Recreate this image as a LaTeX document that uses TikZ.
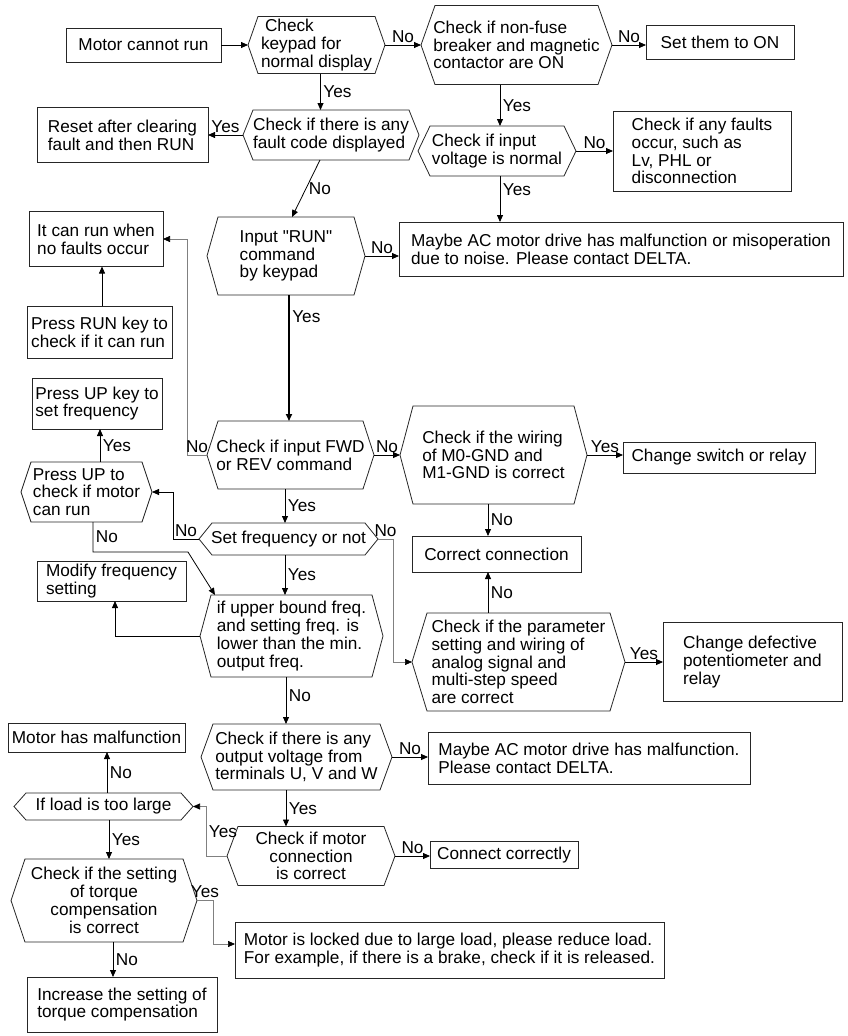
\documentclass[tikz,border=0pt]{standalone}
\usepackage{fontspec}
\newfontfamily\chartfont{Liberation Sans}
\usetikzlibrary{arrows.meta,calc}
\tikzset{
 bx/.style={draw=black!85, line width=0.8pt, inner sep=2pt, outer sep=0pt, align=left},
 hx/.style={inner sep=2pt, outer sep=0pt, align=left},
 hexline/.style={draw=black!85, line width=0.8pt, line join=miter},
 conn/.style={draw=black, line width=0.8pt, -{Triangle[length=7pt,width=6pt]}},
 gconn/.style={draw=black!50, line width=0.7pt, -{Triangle[length=7pt,width=6pt,color=black]}},
 lab/.style={inner sep=2.5pt, text depth=0pt},
}
\newcommand\hexo[2]{\draw[hexline] ([xshift=#2pt]#1.north west) -- ([xshift=-#2pt]#1.north east) -- (#1.east) -- ([xshift=-#2pt]#1.south east) -- ([xshift=#2pt]#1.south west) -- (#1.west) -- cycle;}
\begin{document}
\begin{tikzpicture}[x=1pt,y=-1pt, every node/.style={font=\chartfont\fontsize{17.2}{17.8}\selectfont}]
\path[use as bounding box, fill=white] (0,0) rectangle (847,1036);
% nodes
\node[bx, minimum width=155pt, minimum height=34pt] (start) at (143.5,45) {Motor cannot run};
\node[hx, minimum width=137pt, minimum height=57pt] (h1) at (316.5,45) {\hspace*{4pt}Check\\keypad for\\normal display};
\node[hx, minimum width=191pt, minimum height=79pt] (h2) at (516.5,45) {Check if non-fuse\\breaker and magnetic\\contactor are ON};
\node[bx, minimum width=148pt, minimum height=34pt] (seton) at (720,42) {Set them to ON};
\node[hx, minimum width=176pt, minimum height=50pt] (h3) at (331,135) {Check if there is any\\fault code displayed};
\node[bx, minimum width=171pt, minimum height=55pt] (reset) at (122.5,135) {Reset after clearing\\fault and then RUN};
\node[hx, minimum width=158pt, minimum height=50pt] (h4) at (497,151) {Check if input\\voltage is normal};
\node[bx, minimum width=178pt, minimum height=80pt] (faults) at (702,151) {Check if any faults\\occur, such as\\Lv, PHL or\\disconnection};
\node[bx, minimum width=444pt, minimum height=54pt] (noise) at (621,249) {Maybe AC motor drive has malfunction or misoperation\\due to noise. Please contact DELTA.};
\node[hx, minimum width=158pt, minimum height=78pt] (h5) at (286,256) {Input "RUN"\\command\\by keypad};
\node[bx, minimum width=134pt, minimum height=55pt] (canrun) at (96,239) {It can run when\\no faults occur};
\node[bx, minimum width=145pt, minimum height=52pt] (pressrun) at (99.5,332) {Press RUN key to\\check if it can run};
\node[hx, minimum width=167pt, minimum height=68pt] (h6) at (290.5,455) {Check if input FWD\\or REV command};
\node[bx, minimum width=130pt, minimum height=51pt] (pressup) at (97,403.5) {Press UP key to\\set frequency};
\node[hx, minimum width=131pt, minimum height=60pt] (h7) at (86.5,492) {Press UP to\\check if motor\\can run};
\node[hx, minimum width=179pt, minimum height=32pt] (h8) at (288.5,539) {Set frequency or not};
\node[hx, minimum width=183pt, minimum height=82pt] (h9) at (291.5,636) {if upper bound freq.\\and setting freq. is\\lower than the min.\\output freq.};
\node[bx, minimum width=149pt, minimum height=40pt] (modify) at (111.5,581) {Modify frequency\\setting};
\node[hx, minimum width=187pt, minimum height=98pt] (h10) at (493.5,455) {Check if the wiring\\of M0-GND and\\M1-GND is correct};
\node[bx, minimum width=192pt, minimum height=31pt] (switch) at (719,457.5) {Change switch or relay};
\node[bx, minimum width=169pt, minimum height=36pt] (correct) at (496.5,554) {Correct connection};
\node[hx, minimum width=213pt, minimum height=98pt] (h11) at (518.5,662) {Check if the parameter\\setting and wiring of\\analog signal and\\multi-step speed\\are correct};
\node[bx, minimum width=179pt, minimum height=79pt] (defect) at (752.5,662) {Change defective\\potentiometer and\\relay};
\node[hx, minimum width=191pt, minimum height=66pt] (h12) at (296.5,757) {Check if there is any\\output voltage from\\terminals U, V and W};
\node[bx, minimum width=322pt, minimum height=52pt] (mal2) at (589,758) {Maybe AC motor drive has malfunction.\\Please contact DELTA.};
\node[hx, minimum width=168pt, minimum height=59pt, align=center] (h13) at (311,856) {Check if motor\\connection\\is correct};
\node[bx, minimum width=148pt, minimum height=27pt] (connect) at (504,855) {Connect correctly};
\node[hx, minimum width=179pt, minimum height=27pt] (h14) at (103.5,806.5) {If load is too large};
\node[bx, minimum width=177pt, minimum height=29pt] (motormal) at (96.5,737.5) {Motor has malfunction};
\node[hx, minimum width=186pt, minimum height=83pt, align=center] (h15) at (104,900.5) {Check if the setting\\of torque\\compensation\\is correct};
\node[bx, minimum width=429pt, minimum height=56pt] (locked) at (449.5,950) {Motor is locked due to large load, please reduce load.\\For example, if there is a brake, check if it is released.};
\node[bx, minimum width=190pt, minimum height=55pt] (increase) at (122,1004.5) {Increase the setting of\\torque compensation};
% hexagon outlines
\hexo{h1}{10}\hexo{h2}{14}\hexo{h3}{10}\hexo{h4}{12}\hexo{h5}{11}
\hexo{h6}{11}\hexo{h7}{10}\hexo{h8}{13}\hexo{h9}{11}\hexo{h10}{13}
\hexo{h11}{15}\hexo{h12}{12}\hexo{h13}{11}\hexo{h14}{12}\hexo{h15}{14}
% connectors
\draw[conn] (start.east) -- (h1.west);
\draw[conn] (h1.east) -- node[lab,above] (l1) {No} (h2.west);
\draw[conn] (h2.east) -- node[lab,above] (l2) {No} (h2.east -| seton.west);
\draw[conn] ([xshift=4pt]h1.south) -- node[lab,right] (l3) {Yes} ([xshift=4pt]h1.south |- h3.north);
\draw[conn] (h3.west) -- node[lab,above] (l4) {Yes} (h3.west -| reset.east);
\draw[conn] ([xshift=-11pt]h3.south) -- node[lab,right] (l5) {No} ([xshift=6pt]h5.north);
\draw[conn] ([xshift=-16.5pt]h2.south) -- node[lab,right] (l6) {Yes} ([xshift=-16.5pt]h2.south |- h4.north);
\draw[conn] (h4.east) -- node[lab,above] (l7) {No} (faults.west);
\draw[conn] ([xshift=3pt]h4.south) -- node[lab,right,pos=0.3] (l8) {Yes} ([xshift=3pt]h4.south |- noise.north);
\draw[conn] (h5.east) -- node[lab,above] (l9) {No} (h5.east -| noise.west);
\draw[conn, line width=1.6pt] ([xshift=3pt]h5.south) -- node[lab,right,pos=0.17] (l10) {Yes} ([xshift=3pt]h5.south |- h6.north);
\draw[gconn] (h6.west) -- node[lab,above] (l11) {No} ++(-20,0) |- (canrun.east);
\draw[conn] ([xshift=2.5pt]pressrun.north) -- ([xshift=2.5pt]pressrun.north |- canrun.south);
\draw[conn] (h6.east) -- node[lab,above] (l12) {No} (h10.west);
\draw[conn] (h10.east) -- node[lab,above] (l13) {Yes} (h10.east -| switch.west);
\draw[conn] ([xshift=-5.5pt]h10.south) -- node[lab,right] (l14) {No} ([xshift=-5.5pt]h10.south |- correct.north);
\draw[conn] ([xshift=-30.5pt]h11.north) -- node[lab,right] (l15) {No} ([xshift=-30.5pt]h11.north |- correct.south);
\draw[conn] (h11.east) -- node[lab,above] (l16) {Yes} (h11.east -| defect.west);
\draw[conn] ([xshift=-5.5pt]h6.south) -- node[lab,right] (l17) {Yes} ([xshift=-5.5pt]h6.south |- h8.north);
\draw[conn] (h8.west) -- node[lab,above] (l18) {No} ++(-26,0) |- (h7.east);
\draw[conn] ([xshift=13.5pt]h7.north) -- node[lab,right] (l19) {Yes} ([xshift=13.5pt]h7.north |- pressup.south);
\draw[conn] ([xshift=6.5pt]h7.south) -- node[lab,right] (l20) {No} ++(0,30) -- ++(95,0) -- ([xshift=15pt]h9.north west);
\draw[conn] ([xshift=-3.5pt]h8.south) -- node[lab,right] (l21) {Yes} ([xshift=-3.5pt]h8.south |- h9.north);
\draw[conn] (h9.west) -| ([xshift=3.5pt]modify.south);
\draw[conn] ([xshift=-5.5pt]h9.south) -- node[lab,right,pos=0.4] (l22) {No} ([xshift=-5.5pt]h9.south |- h12.north);
\draw[gconn] (h8.east) -- node[lab,above] (l23) {No} ++(15,0) |- (h11.west);
\draw[conn] (h12.east) -- node[lab,above] (l24) {No} (h12.east -| mal2.west);
\draw[conn] ([xshift=-10.5pt]h12.south) -- node[lab,right] (l25) {Yes} ([xshift=-10.5pt]h12.south |- h13.north);
\draw[conn] (h13.east) -- node[lab,above] (l26) {No} (h13.east -| connect.west);
\draw[gconn] (h13.west) -- ++(-21,0) |- node[lab,right,pos=0.25] (l27) {Yes} (h14.east);
\draw[conn] ([xshift=3.5pt]h14.north) -- node[lab,right] (l28) {No} ([xshift=3.5pt]h14.north |- motormal.south);
\draw[conn] ([xshift=5.5pt]h14.south) -- node[lab,right] (l29) {Yes} ([xshift=5.5pt]h14.south |- h15.north);
\draw[gconn] (h15.east) -- node[lab,above] (l30) {Yes} ++(16,0) |- ([yshift=6pt]locked.west);
\draw[conn] ([xshift=9pt]h15.south) -- node[lab,right] (l31) {No} ([xshift=9pt]h15.south |- increase.north);
\end{tikzpicture}
\end{document}
